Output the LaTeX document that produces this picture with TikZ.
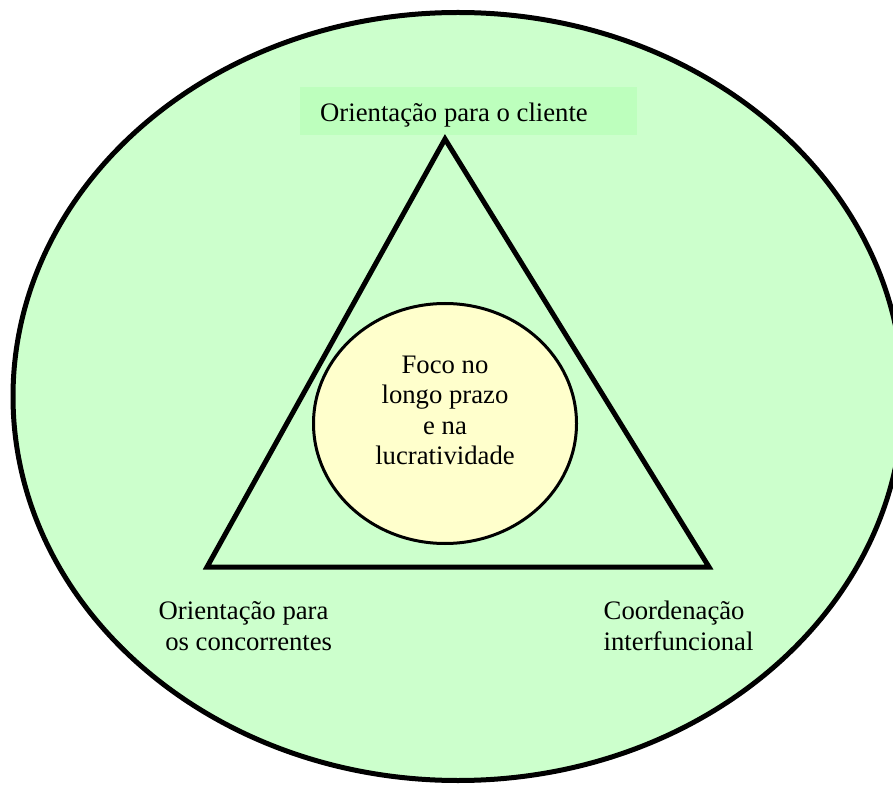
\documentclass[tikz,border=0pt]{standalone}
\usepackage{fontspec}
\setmainfont{Liberation Serif}
\usetikzlibrary{shapes.geometric}
\definecolor{outergreen}{HTML}{CCFFCC}
\definecolor{labelgreen}{HTML}{BDFFBD}
\definecolor{coreyellow}{HTML}{FFFFCC}
\begin{document}
\begin{tikzpicture}[x=1pt,y=1pt,
    labeltext/.style={inner sep=0pt,font=\fontsize{26.7}{31}\selectfont},
    frame/.style={draw=black,line width=5pt},
  ]
  \clip (0,0) rectangle (893,785);
  % outer field
  \node (field) [frame,fill=outergreen,ellipse,minimum width=890pt,minimum height=768pt,inner sep=0pt] at (458,388.5) {};
  % highlighted label band at the apex
  \node (band) [fill=labelgreen,minimum width=337pt,minimum height=47.7pt,inner sep=0pt,anchor=south west] at (300,650) {};
  \node (top) [labeltext,anchor=base west] at (320,663.3) {Orientação para o cliente};
  % triangle corners
  \coordinate (apex) at (445,646);
  \coordinate (bl) at (207,218);
  \coordinate (br) at (709,218);
  \draw[frame,line join=miter] (apex) -- (bl) -- (br) -- cycle;
  % central focus
  \node (core) [draw=black,line width=3pt,fill=coreyellow,ellipse,minimum width=263pt,minimum height=240pt,inner sep=0pt] at (445,361.5) {};
  \node (coretext) [labeltext,align=center,anchor=north,font=\fontsize{26.7}{30.3}\selectfont] at (445,429)
    {Foco no\\longo prazo\\e na\\lucratividade};
  % corner labels
  \node (left) [labeltext,align=left,anchor=north west] at (158.5,184)
    {Orientação para\\\hspace*{6.6pt}os concorrentes};
  \node (right) [labeltext,align=left,anchor=north west] at (603.5,184)
    {Coordenação\\interfuncional};
\end{tikzpicture}
\end{document}
